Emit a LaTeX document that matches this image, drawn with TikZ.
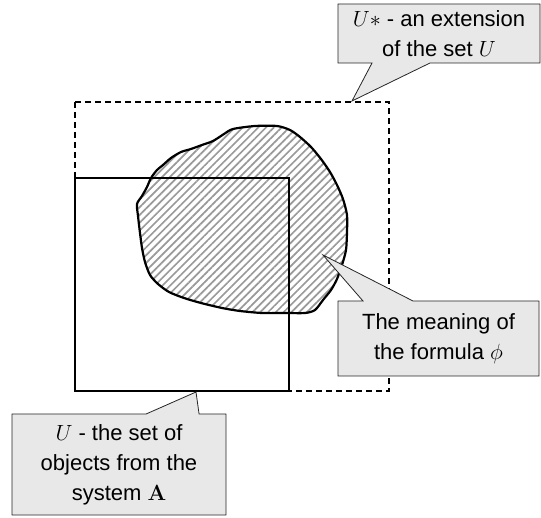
\RequirePackage{fix-cm}
\documentclass[tikz,border=0pt]{standalone}
\usepackage[no-math]{fontspec}
\setmainfont{Liberation Sans}
\usetikzlibrary{shapes.callouts,patterns.meta}

\begin{document}
\begin{tikzpicture}[
			x=1pt, y=-1pt,
			every node/.style={font=\fontsize{22}{30}\selectfont},
			note/.style={rectangle callout, draw=black!85, line width=0.8pt, fill=black!9, align=center, inner sep=0pt}
			]
			\useasboundingbox (0,0) rectangle (541,518);
			
			% Meaning of the formula
			\draw[line width=2.2pt, pattern={Lines[angle=45,distance=5.5pt,line width=1.7pt]}, pattern color=black!40]
			plot[smooth cycle, tension=0.45] coordinates {
				(233,129) (255,126) (277,126) (290,130) (300,137) (311,147) (321,159)
				(330,172) (337,185) (343,199) (347,215) (347,232) (346,250) (342,265)
				(337,279) (331,290) (323,300) (315,310) (305,313) (285,313) (262,313)
				(240,311) (222,308) (201,303) (184,298) (169,292) (158,284) (150,275)
				(145,262) (142,248) (140,233) (138,216) (137,204) (142,196) (147,187)
				(151,178) (157,170) (163,165) (171,158) (181,152) (191,149) (202,145)
				(213,141) (224,134)};
			
			% The sets U* and U
			\draw[line width=1.6pt, dash pattern=on 6pt off 4pt] (75,102) rectangle (389,391);
			\draw[line width=2.2pt] (75,178) rectangle (289,391);
			
			% Pointer targets
			\coordinate (ext tip) at (352,101);
			\coordinate (phi tip) at (323,255);
			\coordinate (set tip) at (196,392);
			
			% Callouts
			\node[note, minimum width=202pt, minimum height=59pt, callout absolute pointer={(ext tip)}, callout pointer width=58pt]
			(ext) at (439,33.5) {$U*$ - an extension\\of the set $U$};
			\node[note, minimum width=201pt, minimum height=75pt, callout absolute pointer={(phi tip)}, callout pointer width=50pt]
			(phi) at (438.5,338.5) {The meaning of\\the formula $\phi$};
			\node[note, minimum width=214pt, minimum height=101pt, callout absolute pointer={(set tip)}, callout pointer width=53pt]
			(set) at (119,464.5) {$U$ - the set of\\objects from the\\system $\mathbf{A}$};
		\end{tikzpicture}
\end{document}
